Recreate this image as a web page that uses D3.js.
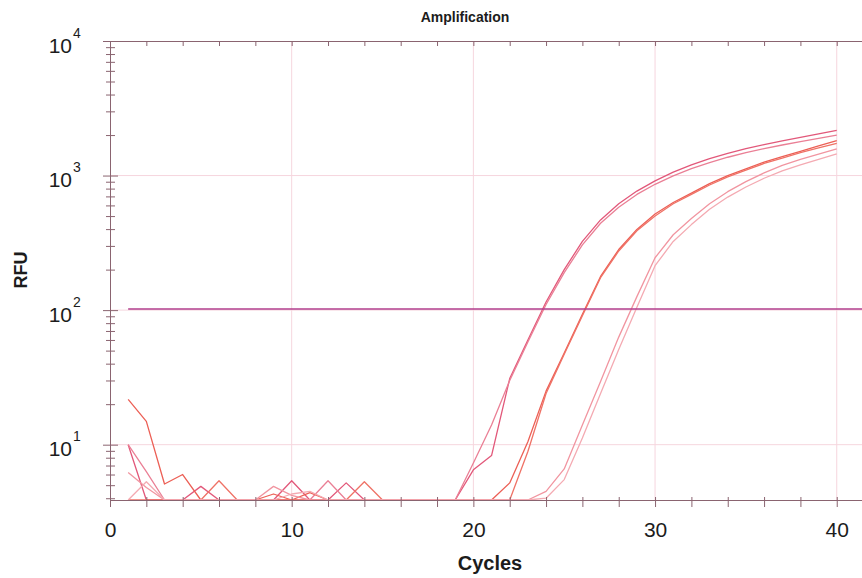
<!DOCTYPE html>
<html>
<head>
<meta charset="utf-8">
<script src="https://cdn.jsdelivr.net/npm/d3@7"></script>
<style>
  body { margin: 0; background: #fff; }
  svg { display: block; font-family: "Liberation Sans", Arial, sans-serif; }
</style>
</head>
<body>
<svg></svg>
<script>
var width = 862;
var height = 578;
var margin = ({top: 41, right: -2, bottom: 78, left: 110});

// cycles 1..40
var cycles = d3.range(1, 41);
var B = 3; // below the axis floor -> drawn on the baseline

// RFU per cycle, one array per well
var wellA1 = [10, B, B, B, 4.9, B, B, B, B, 5.4, B, B, 5.2, B, B, B, B, B, B,
  6.5, 8.3, 31, 60, 115, 200, 324, 468, 617, 767, 912, 1059, 1202, 1334, 1462, 1585, 1698, 1810, 1923, 2042, 2168];
var wellA2 = [10, 6.3, B, B, B, B, B, B, B, B, B, 5.4, B, B, B, B, B, B, B,
  7.3, 14, 30, 58, 110, 190, 305, 442, 582, 724, 861, 995, 1127, 1250, 1368, 1479, 1585, 1687, 1786, 1888, 1995];
var wellB1 = [21.7, 14.9, 5.1, 6.0, B, B, B, B, 4.3, B, 4.4, B, B, B, B, B, B, B, B,
  B, B, 5.2, 10.5, 25, 48, 93, 178, 282, 398, 518, 631, 741, 871, 1000, 1122, 1259, 1380, 1514, 1660, 1820];
var wellB2 = [B, B, B, B, B, 5.4, B, B, B, B, B, B, B, 5.3, B, B, B, B, B,
  B, B, B, 8.9, 24, 47, 91, 174, 275, 389, 501, 617, 724, 851, 977, 1096, 1230, 1349, 1479, 1603, 1738];
var wellC1 = [6.2, 4.8, B, B, B, B, B, B, 4.9, 4.2, B, B, B, B, B, B, B, B, B,
  B, B, B, B, 4.5, 6.6, 14, 29.5, 63, 126, 245, 363, 479, 617, 759, 902, 1047, 1189, 1318, 1445, 1581];
var wellC2 = [B, 5.3, B, B, B, B, B, B, B, 4.3, 4.5, B, B, B, B, B, B, B, B,
  B, B, B, B, 4.0, 5.5, 11.2, 24, 51, 105, 214, 324, 432, 562, 692, 822, 955, 1084, 1202, 1318, 1452];

var wells = [wellA1, wellA2, wellB1, wellB2, wellC1, wellC2];
var wellColors = ["#e2587a", "#ea7f95", "#ec5f55", "#ef7266", "#f195a0", "#f4aab2"];

var threshold = 102;
var thresholdStart = 1;

var xGrid = [10, 20, 30, 40];
var yGrid = [10, 100, 1000];
var xTickValues = d3.range(0, 42, 2);
var xLabelled = [0, 10, 20, 30, 40];

var axisColor = "#8a6470";
var gridColor = "#f6d6de";
var textColor = "#1c1c1c";

var x = d3.scaleLinear()
    .domain([0, 41.5])
    .range([margin.left, width - margin.right]);

var y = d3.scaleLog()
    .domain([3.88, 10000])
    .range([height - margin.bottom, margin.top])
    .clamp(true);

var isMajor = d => Math.abs(Math.log10(d) - Math.round(Math.log10(d))) < 1e-9;

var svg = d3.select("svg")
    .attr("width", width)
    .attr("height", height)
    .attr("viewBox", [0, 0, width, height]);

// grid
svg.append("g")
    .selectAll("line")
    .data(xGrid)
    .join("line")
    .attr("x1", d => x(d)).attr("x2", d => x(d))
    .attr("y1", y.range()[0]).attr("y2", y.range()[1])
    .attr("stroke", gridColor);

svg.append("g")
    .selectAll("line")
    .data(yGrid)
    .join("line")
    .attr("x1", x.range()[0]).attr("x2", x.range()[1])
    .attr("y1", d => y(d)).attr("y2", d => y(d))
    .attr("stroke", gridColor);

// amplification curves
var line = d3.line()
    .x((d, i) => x(cycles[i]))
    .y(d => y(d));

svg.append("g")
    .attr("fill", "none")
    .attr("stroke-width", 1.3)
    .attr("stroke-linejoin", "round")
    .selectAll("path")
    .data(wells)
    .join("path")
    .attr("stroke", (d, i) => wellColors[i])
    .attr("d", line);

// threshold
svg.append("line")
    .attr("x1", x(thresholdStart))
    .attr("x2", x.range()[1])
    .attr("y1", y(threshold))
    .attr("y2", y(threshold))
    .attr("stroke", "#b23e8c")
    .attr("stroke-width", 1.5);

// bottom axis
svg.append("g")
    .attr("transform", `translate(0,${y.range()[0]})`)
    .call(d3.axisBottom(x)
        .tickValues(xTickValues)
        .tickSizeOuter(0)
        .tickFormat(d => xLabelled.includes(d) ? d : ""))
    .call(g => g.select(".domain").attr("stroke", axisColor))
    .call(g => g.selectAll(".tick line")
        .attr("stroke", axisColor)
        .attr("y1", -3)
        .attr("y2", 7))
    .call(g => g.selectAll(".tick text")
        .attr("y", 37)
        .attr("dy", 0)
        .attr("fill", textColor)
        .attr("font-size", 21)
        .attr("font-family", "Liberation Sans, Arial, sans-serif"));

// top axis
svg.append("g")
    .attr("transform", `translate(0,${y.range()[1]})`)
    .call(d3.axisTop(x)
        .tickValues(xTickValues)
        .tickSize(-5)
        .tickSizeOuter(0)
        .tickFormat(""))
    .call(g => g.select(".domain").attr("stroke", axisColor))
    .call(g => g.selectAll(".tick line").attr("stroke", axisColor));

// left axis, log ticks
svg.append("g")
    .attr("transform", `translate(${x.range()[0]},0)`)
    .call(d3.axisLeft(y)
        .tickValues(y.ticks())
        .tickSizeOuter(0)
        .tickFormat(""))
    .call(g => g.select(".domain").attr("stroke", axisColor))
    .call(g => g.selectAll(".tick line")
        .attr("stroke", axisColor)
        .attr("x1", d => isMajor(d) ? 8 : 5)
        .attr("x2", d => isMajor(d) ? -7 : -4))
    .call(g => g.selectAll(".tick").filter(isMajor).each(function (d) {
        var t = d3.select(this);
        t.append("text")
            .attr("x", -38)
            .attr("y", 11)
            .attr("text-anchor", "end")
            .attr("fill", textColor)
            .attr("font-size", 21)
            .text("10");
        t.append("text")
            .attr("x", -37)
            .attr("y", -4)
            .attr("text-anchor", "start")
            .attr("fill", textColor)
            .attr("font-size", 14)
            .text(Math.round(Math.log10(d)));
    }));

// titles
svg.append("text")
    .attr("x", 465)
    .attr("y", 22)
    .attr("text-anchor", "middle")
    .attr("font-weight", "bold")
    .attr("font-size", 14)
    .attr("fill", textColor)
    .text("Amplification");

svg.append("text")
    .attr("x", 490)
    .attr("y", 570)
    .attr("text-anchor", "middle")
    .attr("font-weight", "bold")
    .attr("font-size", 20)
    .attr("fill", textColor)
    .text("Cycles");

svg.append("text")
    .attr("transform", "translate(27,270) rotate(-90)")
    .attr("text-anchor", "middle")
    .attr("font-weight", "bold")
    .attr("font-size", 18)
    .attr("fill", textColor)
    .text("RFU");
</script>
</body>
</html>
